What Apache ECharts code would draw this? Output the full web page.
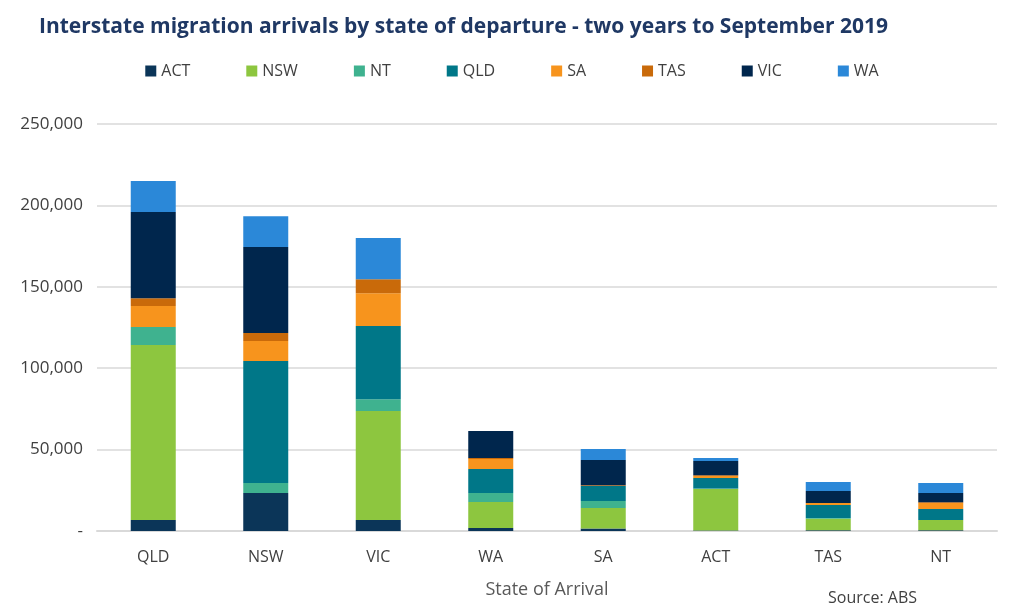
<!DOCTYPE html>
<html><head><meta charset="utf-8">
<script src="https://cdn.jsdelivr.net/npm/echarts@6/dist/echarts.min.js"></script>
<style>html,body{margin:0;background:#fff}#c{width:1024px;height:616px}</style>
</head><body><div id="c"></div>
<script>
// states of arrival (x axis)
var arrivals = ['QLD', 'NSW', 'VIC', 'WA', 'SA', 'ACT', 'TAS', 'NT'];
// departures by state, one value per arrival state
var fromACT = [6700, 23300, 6700, 1800, 1500, 300, 500, 500];
var fromNSW = [107600, 0, 67000, 16000, 12600, 25500, 7000, 6300];
var fromNT  = [11000, 6200, 7300, 5500, 4300, 300, 500, 0];
var fromQLD = [0, 74900, 44900, 14800, 9200, 6400, 8000, 6700];
var fromSA  = [12900, 12300, 20200, 6100, 0, 1300, 1200, 3700];
var fromTAS = [4800, 4900, 8600, 600, 500, 500, 0, 400];
var fromVIC = [53000, 52800, 0, 16600, 15500, 8700, 7400, 5700];
var fromWA  = [19000, 19000, 25200, 0, 6700, 1800, 5500, 6200];

var names = ['ACT', 'NSW', 'NT', 'QLD', 'SA', 'TAS', 'VIC', 'WA'];
var values = [fromACT, fromNSW, fromNT, fromQLD, fromSA, fromTAS, fromVIC, fromWA];
var colors = ['#0b3558', '#8dc63f', '#3fb28f', '#007788', '#f7941d', '#c96a0a', '#00264d', '#2b88d8'];

var font = 'Open Sans';
var chart = echarts.init(document.getElementById('c'));
chart.setOption({
  color: colors,
  textStyle: { fontFamily: font },
  title: {
    text: 'Interstate migration arrivals by state of departure - two years to September 2019',
    left: 34, top: 12,
    textStyle: { color: '#1f3864', fontSize: 21, fontWeight: 'bold', fontFamily: font }
  },
  legend: {
    top: 58, left: 'center', itemWidth: 11, itemHeight: 11, itemGap: 56,
    icon: 'rect', textStyle: { fontSize: 16, color: '#404040' },
    data: names
  },
  grid: { left: 97, right: 27, top: 124, bottom: 85 },
  xAxis: {
    type: 'category', data: arrivals,
    name: 'State of Arrival', nameLocation: 'middle', nameGap: 50,
    nameTextStyle: { fontSize: 18, color: '#595959' },
    axisLine: { lineStyle: { color: '#d9d9d9', width: 2 } },
    axisTick: { show: false },
    axisLabel: { fontSize: 16, color: '#404040', margin: 18 }
  },
  yAxis: {
    type: 'value', min: 0, max: 250000, interval: 50000,
    axisLabel: {
      fontSize: 17, color: '#404040', margin: 14,
      formatter: function (v) { return v === 0 ? '-' : v.toLocaleString('en-US'); }
    },
    splitLine: { lineStyle: { color: '#d9d9d9', width: 1.5 } }
  },
  series: names.map(function (n, i) {
    return { name: n, type: 'bar', stack: 'all', barWidth: 45, data: values[i] };
  }),
  graphic: [{
    type: 'text', left: 828, top: 590,
    style: { text: 'Source: ABS', fontSize: 16, fill: '#404040', fontFamily: font }
  }]
});
</script></body></html>
